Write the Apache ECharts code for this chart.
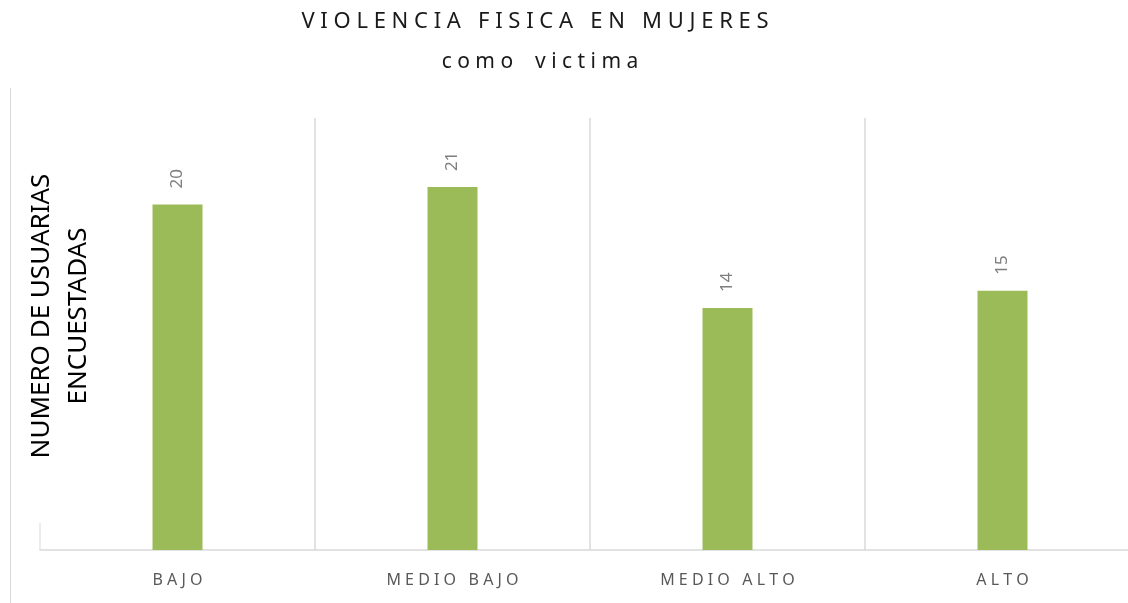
<!DOCTYPE html>
<html>
<head>
<meta charset="utf-8">
<script src="https://cdn.jsdelivr.net/npm/echarts@6/dist/echarts.min.js"></script>
<style>
  html, body { margin: 0; padding: 0; background: #fff; }
  #chart { width: 1128px; height: 603px; }
</style>
</head>
<body>
<div id="chart"></div>
<script>
// datos del grafico
var categorias = ['BAJO', 'MEDIO BAJO', 'MEDIO ALTO', 'ALTO'];
var victimas = [20, 21, 14, 15];
var tituloTexto = 'VIOLENCIA FISICA EN MUJERES';
var subtituloTexto = 'como victima';
var ejeYTexto = ['NUMERO DE USUARIAS', 'ENCUESTADAS'];

// separa letras para imitar el espaciado del original
function espaciar(s, hueco) {
    return s.split(' ').map(function (p) { return p.split('').join(' '); }).join(hueco || '   ');
}

var chart = echarts.init(document.getElementById('chart'));
var fuente = '"Noto Sans", sans-serif';

var option = {
    backgroundColor: '#ffffff',
    animation: false,
    title: [{
        text: espaciar(tituloTexto),
        left: 530,
        top: 6,
        textAlign: 'center',
        textStyle: { fontFamily: fuente, fontSize: 22, fontWeight: 'normal', color: '#1a1a1a' }
    }, {
        text: espaciar(subtituloTexto, '    '),
        left: 535,
        top: 47,
        textAlign: 'center',
        textStyle: { fontFamily: fuente, fontSize: 21, fontWeight: 'normal', color: '#1a1a1a' }
    }],
    grid: { left: 40, top: 118, width: 1100, height: 432, outerBoundsMode: 'none' },
    xAxis: {
        type: 'category',
        data: categorias,
        axisLine: { lineStyle: { color: '#d9d9d9', width: 1.5 } },
        axisTick: { show: false },
        axisLabel: {
            margin: 22,
            fontFamily: fuente,
            fontSize: 16,
            color: '#595959',
            formatter: function (v) { return espaciar(v); }
        },
        splitLine: { show: true, showMinLine: false, lineStyle: { color: '#d9d9d9', width: 1.5 } }
    },
    yAxis: {
        type: 'value',
        min: 0,
        max: 25,
        axisLine: { show: false },
        axisTick: { show: false },
        axisLabel: { show: false },
        splitLine: { show: false }
    },
    graphic: [{
        type: 'line',
        shape: { x1: 10.5, y1: 88, x2: 10.5, y2: 603 },
        style: { stroke: '#d9d9d9', lineWidth: 1 }
    }, {
        type: 'line',
        shape: { x1: 40, y1: 523, x2: 40, y2: 550 },
        style: { stroke: '#d9d9d9', lineWidth: 1 }
    }, {
        type: 'text',
        x: 60,
        y: 316,
        rotation: Math.PI / 2,
        style: {
            text: ejeYTexto.join('\n'),
            font: '26px "Noto Sans", sans-serif',
            fill: '#000000',
            align: 'center',
            verticalAlign: 'middle',
            lineHeight: 37
        }
    }],
    series: [{
        type: 'bar',
        data: victimas,
        barWidth: 50,
        itemStyle: { color: '#9bbb59' },
        label: {
            show: true,
            position: 'top',
            distance: 16,
            rotate: 90,
            align: 'left',
            verticalAlign: 'middle',
            fontFamily: fuente,
            fontSize: 17,
            color: '#7f7f7f'
        }
    }]
};

chart.setOption(option);
</script>
</body>
</html>
